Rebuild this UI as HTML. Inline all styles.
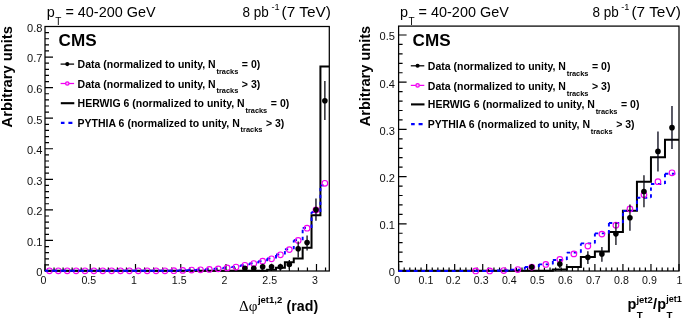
<!DOCTYPE html>
<html><head><meta charset="utf-8"><title>plot</title>
<style>html,body{margin:0;padding:0;background:#fff;}svg{display:block;font-family:'Liberation Sans', sans-serif;will-change:transform;opacity:0.999;}</style>
</head><body>
<svg width="685" height="322" viewBox="0 0 685 322">
<rect width="685" height="322" fill="#fff"/>
<defs><filter id="soft" x="0" y="0" width="685" height="322" filterUnits="userSpaceOnUse"><feGaussianBlur stdDeviation="0.55"/></filter></defs>
<g filter="url(#soft)">
<rect x="45.00" y="26.50" width="284.30" height="244.50" fill="none" stroke="#000" stroke-width="1.25"/>
<path d="M45.00 271.00V264.00M54.05 271.00V267.50M63.10 271.00V267.50M72.15 271.00V267.50M81.20 271.00V267.50M90.25 271.00V264.00M99.30 271.00V267.50M108.35 271.00V267.50M117.40 271.00V267.50M126.45 271.00V267.50M135.50 271.00V264.00M144.55 271.00V267.50M153.59 271.00V267.50M162.64 271.00V267.50M171.69 271.00V267.50M180.74 271.00V264.00M189.79 271.00V267.50M198.84 271.00V267.50M207.89 271.00V267.50M216.94 271.00V267.50M225.99 271.00V264.00M235.04 271.00V267.50M244.09 271.00V267.50M253.14 271.00V267.50M262.19 271.00V267.50M271.24 271.00V264.00M280.29 271.00V267.50M289.34 271.00V267.50M298.39 271.00V267.50M307.44 271.00V267.50M316.49 271.00V264.00M325.54 271.00V267.50M45.00 271.00H53.00M45.00 264.89H49.00M45.00 258.78H49.00M45.00 252.66H49.00M45.00 246.55H49.00M45.00 240.44H53.00M45.00 234.33H49.00M45.00 228.22H49.00M45.00 222.10H49.00M45.00 215.99H49.00M45.00 209.88H53.00M45.00 203.77H49.00M45.00 197.66H49.00M45.00 191.54H49.00M45.00 185.43H49.00M45.00 179.32H53.00M45.00 173.21H49.00M45.00 167.10H49.00M45.00 160.98H49.00M45.00 154.87H49.00M45.00 148.76H53.00M45.00 142.65H49.00M45.00 136.54H49.00M45.00 130.42H49.00M45.00 124.31H49.00M45.00 118.20H53.00M45.00 112.09H49.00M45.00 105.98H49.00M45.00 99.86H49.00M45.00 93.75H49.00M45.00 87.64H53.00M45.00 81.53H49.00M45.00 75.42H49.00M45.00 69.30H49.00M45.00 63.19H49.00M45.00 57.08H53.00M45.00 50.97H49.00M45.00 44.86H49.00M45.00 38.74H49.00M45.00 32.63H49.00M45.00 26.52H53.00" stroke="#000" stroke-width="1.2" fill="none"/>
<path d="M45.00 270.85H53.88V270.85H62.77V270.85H71.65V270.85H80.54V270.85H89.42V270.85H98.31V270.85H107.19V270.85H116.08V270.85H124.96V270.85H133.84V270.85H142.73V270.85H151.61V270.85H160.50V270.85H169.38V270.85H178.27V270.85H187.15V270.85H196.03V270.85H204.92V270.85H213.80V270.85H222.69V270.85H231.57V270.85H240.46V270.85H249.34V270.85H258.23V270.85H267.11V269.78H275.99V267.64H284.88V262.32H293.76V258.62H302.65V247.84H311.53V215.23H320.42V66.55H329.30" stroke="#000" stroke-width="2" fill="none" stroke-linejoin="miter"/>
<circle cx="49.44" cy="270.79" r="2.8" fill="none" stroke="#f200f2" stroke-width="1.15"/>
<circle cx="58.33" cy="270.79" r="2.8" fill="none" stroke="#f200f2" stroke-width="1.15"/>
<circle cx="67.21" cy="270.79" r="2.8" fill="none" stroke="#f200f2" stroke-width="1.15"/>
<circle cx="76.10" cy="270.79" r="2.8" fill="none" stroke="#f200f2" stroke-width="1.15"/>
<circle cx="84.98" cy="270.79" r="2.8" fill="none" stroke="#f200f2" stroke-width="1.15"/>
<circle cx="93.86" cy="270.79" r="2.8" fill="none" stroke="#f200f2" stroke-width="1.15"/>
<circle cx="102.75" cy="270.79" r="2.8" fill="none" stroke="#f200f2" stroke-width="1.15"/>
<circle cx="111.63" cy="270.79" r="2.8" fill="none" stroke="#f200f2" stroke-width="1.15"/>
<circle cx="120.52" cy="270.79" r="2.8" fill="none" stroke="#f200f2" stroke-width="1.15"/>
<circle cx="129.40" cy="270.79" r="2.8" fill="none" stroke="#f200f2" stroke-width="1.15"/>
<circle cx="138.29" cy="270.79" r="2.8" fill="none" stroke="#f200f2" stroke-width="1.15"/>
<circle cx="147.17" cy="270.79" r="2.8" fill="none" stroke="#f200f2" stroke-width="1.15"/>
<circle cx="156.05" cy="270.79" r="2.8" fill="none" stroke="#f200f2" stroke-width="1.15"/>
<circle cx="164.94" cy="270.79" r="2.8" fill="none" stroke="#f200f2" stroke-width="1.15"/>
<circle cx="173.82" cy="270.69" r="2.8" fill="none" stroke="#f200f2" stroke-width="1.15"/>
<circle cx="182.71" cy="270.39" r="2.8" fill="none" stroke="#f200f2" stroke-width="1.15"/>
<circle cx="191.59" cy="270.08" r="2.8" fill="none" stroke="#f200f2" stroke-width="1.15"/>
<g stroke="#0000ff" stroke-width="1.9" fill="none" stroke-dasharray="3.4 3.5"><path d="M45.00 270.79L53.88 270.79"/><path d="M53.88 270.79L62.77 270.79"/><path d="M62.77 270.79L71.65 270.79"/><path d="M71.65 270.79L80.54 270.79"/><path d="M80.54 270.79L89.42 270.79"/><path d="M89.42 270.79L98.31 270.79"/><path d="M98.31 270.79L107.19 270.79"/><path d="M107.19 270.79L116.08 270.79"/><path d="M116.08 270.79L124.96 270.79"/><path d="M124.96 270.79L133.84 270.79"/><path d="M133.84 270.79L142.73 270.79"/><path d="M142.73 270.79L151.61 270.79"/><path d="M151.61 270.79L160.50 270.79"/><path d="M160.50 270.79L169.38 270.79"/><path d="M169.38 270.79L169.38 270.69"/><path d="M169.38 270.69L178.27 270.69"/><path d="M178.27 270.69L178.27 270.39"/><path d="M178.27 270.39L187.15 270.39"/><path d="M187.15 270.39L187.15 270.08"/><path d="M187.15 270.08L196.03 270.08"/><path d="M196.03 270.08L196.03 269.78"/><path d="M204.92 269.78L204.92 269.32"/><path d="M213.80 269.32L213.80 268.71"/><path d="M222.69 268.71L222.69 267.79"/><path d="M231.57 267.79L231.57 266.87"/><path d="M240.46 266.87L240.46 265.19"/><path d="M249.34 265.19L249.34 263.36"/><path d="M258.23 263.36L258.23 261.22"/><path d="M267.11 261.22L267.11 258.47"/><path d="M275.99 258.47L275.99 254.50"/><path d="M284.88 254.50L284.88 249.30"/><path d="M293.76 249.30L293.76 240.13"/><path d="M302.65 240.13L302.65 227.91"/><path d="M311.53 227.91L311.53 212.02"/><path d="M320.42 212.02L320.42 185.43"/></g>
<g stroke="#0000ff" stroke-width="1.9" fill="none" stroke-dasharray="3.3 20"><path d="M196.03 269.78L204.92 269.78"/><path d="M204.92 269.32L213.80 269.32"/><path d="M213.80 268.71L222.69 268.71"/><path d="M222.69 267.79L231.57 267.79"/><path d="M231.57 266.87L240.46 266.87"/><path d="M240.46 265.19L249.34 265.19"/><path d="M249.34 263.36L258.23 263.36"/><path d="M258.23 261.22L267.11 261.22"/><path d="M267.11 258.47L275.99 258.47"/><path d="M275.99 254.50L284.88 254.50"/><path d="M284.88 249.30L293.76 249.30"/><path d="M293.76 240.13L302.65 240.13"/><path d="M302.65 227.91L311.53 227.91"/><path d="M311.53 212.02L320.42 212.02"/><path d="M320.42 185.43L329.30 185.43"/></g>
<circle cx="200.48" cy="269.78" r="2.8" fill="none" stroke="#f200f2" stroke-width="1.15"/>
<circle cx="209.36" cy="269.47" r="2.8" fill="none" stroke="#f200f2" stroke-width="1.15"/>
<circle cx="218.25" cy="268.86" r="2.8" fill="none" stroke="#f200f2" stroke-width="1.15"/>
<circle cx="227.13" cy="267.94" r="2.8" fill="none" stroke="#f200f2" stroke-width="1.15"/>
<circle cx="236.01" cy="267.03" r="2.8" fill="none" stroke="#f200f2" stroke-width="1.15"/>
<circle cx="244.90" cy="265.32" r="2.8" fill="none" stroke="#f200f2" stroke-width="1.15"/>
<circle cx="253.78" cy="263.51" r="2.8" fill="none" stroke="#f200f2" stroke-width="1.15"/>
<circle cx="262.67" cy="261.22" r="2.8" fill="none" stroke="#f200f2" stroke-width="1.15"/>
<circle cx="271.55" cy="258.78" r="2.8" fill="none" stroke="#f200f2" stroke-width="1.15"/>
<circle cx="280.44" cy="254.80" r="2.8" fill="none" stroke="#f200f2" stroke-width="1.15"/>
<circle cx="289.32" cy="249.61" r="2.8" fill="none" stroke="#f200f2" stroke-width="1.15"/>
<circle cx="298.20" cy="240.44" r="2.8" fill="none" stroke="#f200f2" stroke-width="1.15"/>
<circle cx="307.09" cy="228.22" r="2.8" fill="none" stroke="#f200f2" stroke-width="1.15"/>
<circle cx="315.97" cy="209.88" r="2.8" fill="none" stroke="#f200f2" stroke-width="1.15"/>
<circle cx="324.86" cy="183.29" r="2.8" fill="none" stroke="#f200f2" stroke-width="1.15"/>
<path d="M244.90 266.25V270.25" stroke="#0a0a14" stroke-width="1.3"/>
<circle cx="244.90" cy="268.25" r="2.8" fill="#000"/>
<path d="M253.78 266.25V270.25" stroke="#0a0a14" stroke-width="1.3"/>
<circle cx="253.78" cy="268.25" r="2.8" fill="#000"/>
<path d="M262.67 263.72V269.72" stroke="#0a0a14" stroke-width="1.3"/>
<circle cx="262.67" cy="266.72" r="2.8" fill="#000"/>
<path d="M271.55 263.72V269.72" stroke="#0a0a14" stroke-width="1.3"/>
<circle cx="271.55" cy="266.72" r="2.8" fill="#000"/>
<path d="M280.44 263.72V269.72" stroke="#0a0a14" stroke-width="1.3"/>
<circle cx="280.44" cy="266.72" r="2.8" fill="#000"/>
<path d="M289.32 260.00V268.80" stroke="#0a0a14" stroke-width="1.3"/>
<circle cx="289.32" cy="264.43" r="2.8" fill="#000"/>
<path d="M298.20 241.60V257.40" stroke="#0a0a14" stroke-width="1.3"/>
<circle cx="298.20" cy="248.69" r="2.8" fill="#000"/>
<path d="M307.09 235.50V250.40" stroke="#0a0a14" stroke-width="1.3"/>
<circle cx="307.09" cy="242.58" r="2.8" fill="#000"/>
<path d="M315.97 198.50V220.80" stroke="#0a0a14" stroke-width="1.3"/>
<circle cx="315.97" cy="209.73" r="2.8" fill="#000"/>
<path d="M324.86 81.00V120.00" stroke="#0a0a14" stroke-width="1.3"/>
<circle cx="324.86" cy="100.78" r="2.8" fill="#000"/>
<text x="43.50" y="284.20" font-size="10.6" text-anchor="middle" fill="#111">0</text>
<text x="88.75" y="284.20" font-size="10.6" text-anchor="middle" fill="#111">0.5</text>
<text x="134.00" y="284.20" font-size="10.6" text-anchor="middle" fill="#111">1</text>
<text x="179.24" y="284.20" font-size="10.6" text-anchor="middle" fill="#111">1.5</text>
<text x="224.49" y="284.20" font-size="10.6" text-anchor="middle" fill="#111">2</text>
<text x="269.74" y="284.20" font-size="10.6" text-anchor="middle" fill="#111">2.5</text>
<text x="314.99" y="284.20" font-size="10.6" text-anchor="middle" fill="#111">3</text>
<text x="42.40" y="276.40" font-size="11.1" text-anchor="end" fill="#111">0</text>
<text x="42.40" y="245.84" font-size="11.1" text-anchor="end" fill="#111">0.1</text>
<text x="42.40" y="215.28" font-size="11.1" text-anchor="end" fill="#111">0.2</text>
<text x="42.40" y="184.72" font-size="11.1" text-anchor="end" fill="#111">0.3</text>
<text x="42.40" y="154.16" font-size="11.1" text-anchor="end" fill="#111">0.4</text>
<text x="42.40" y="123.60" font-size="11.1" text-anchor="end" fill="#111">0.5</text>
<text x="42.40" y="93.04" font-size="11.1" text-anchor="end" fill="#111">0.6</text>
<text x="42.40" y="62.48" font-size="11.1" text-anchor="end" fill="#111">0.7</text>
<text x="42.40" y="31.92" font-size="11.1" text-anchor="end" fill="#111">0.8</text>
<path d="M60.6 64.1H74.1" stroke="#000" stroke-width="1.25"/>
<circle cx="67.3" cy="64.1" r="2.05" fill="#000"/>
<path d="M60.6 83.5H74.1" stroke="#f200f2" stroke-width="1.25"/>
<circle cx="67.3" cy="83.5" r="1.7" fill="#f6c8f6" stroke="#f200f2" stroke-width="1.3"/>
<path d="M60.8 103.2H74.3" stroke="#000" stroke-width="2.1"/>
<path d="M60.9 122.9h3.6m3.9 0h4" stroke="#0000ff" stroke-width="2.1"/>
<text x="77.6" y="68.1" font-size="10.5" font-weight="bold" fill="#000">Data (normalized to unity, N<tspan dy="5.5" dx="0.8" font-size="7.4">tracks</tspan><tspan dy="-5.5" dx="3.6" font-size="10.5">= 0)</tspan></text>
<text x="77.6" y="87.6" font-size="10.5" font-weight="bold" fill="#000">Data (normalized to unity, N<tspan dy="5.5" dx="0.8" font-size="7.4">tracks</tspan><tspan dy="-5.5" dx="3.6" font-size="10.5">&gt; 3)</tspan></text>
<text x="77.6" y="107.0" font-size="10.5" font-weight="bold" fill="#000">HERWIG 6 (normalized to unity, N<tspan dy="5.5" dx="0.8" font-size="7.4">tracks</tspan><tspan dy="-5.5" dx="3.6" font-size="10.5">= 0)</tspan></text>
<text x="77.6" y="126.7" font-size="10.5" font-weight="bold" fill="#000">PYTHIA 6 (normalized to unity, N<tspan dy="5.5" dx="0.8" font-size="7.4">tracks</tspan><tspan dy="-5.5" dx="3.6" font-size="10.5">&gt; 3)</tspan></text>
<text x="58.60" y="45.80" font-size="17.10" fill="#000" font-weight="bold">CMS</text>
<text x="46.70" y="16.90" font-size="14.40" fill="#000">p</text>
<text x="55.20" y="24.80" font-size="10.00" fill="#000">T</text>
<text x="65.40" y="16.90" font-size="14.40" fill="#000" textLength="90.20" lengthAdjust="spacingAndGlyphs">= 40-200 GeV</text>
<text x="242.60" y="16.60" font-size="14.00" fill="#000" textLength="26.20" lengthAdjust="spacingAndGlyphs">8 pb</text>
<text x="271.40" y="10.30" font-size="9.20" fill="#000" textLength="8.20" lengthAdjust="spacingAndGlyphs">-1</text>
<text x="281.60" y="16.60" font-size="14.30" fill="#000" textLength="49.30" lengthAdjust="spacingAndGlyphs">(7 TeV)</text>
<text transform="translate(11.9,127.4) rotate(-90)" font-size="14.1" font-weight="bold" fill="#000" textLength="101.3" lengthAdjust="spacingAndGlyphs">Arbitrary units</text>
<text x="239.0" y="311.2" font-size="14.3" fill="#000" font-family="'Liberation Serif', serif" textLength="18.4" lengthAdjust="spacingAndGlyphs">&#916;&#966;</text>
<text x="257.90" y="303.00" font-size="9.50" fill="#000" font-weight="bold">jet1,2</text>
<text x="286.60" y="311.30" font-size="14.20" fill="#000" font-weight="bold">(rad)</text>
<rect x="398.60" y="26.10" width="280.40" height="244.90" fill="none" stroke="#000" stroke-width="1.25"/>
<path d="M398.60 271.00V264.00M404.21 271.00V267.50M409.82 271.00V267.50M415.42 271.00V267.50M421.03 271.00V267.50M426.64 271.00V264.00M432.25 271.00V267.50M437.86 271.00V267.50M443.46 271.00V267.50M449.07 271.00V267.50M454.68 271.00V264.00M460.29 271.00V267.50M465.90 271.00V267.50M471.50 271.00V267.50M477.11 271.00V267.50M482.72 271.00V264.00M488.33 271.00V267.50M493.94 271.00V267.50M499.54 271.00V267.50M505.15 271.00V267.50M510.76 271.00V264.00M516.37 271.00V267.50M521.98 271.00V267.50M527.58 271.00V267.50M533.19 271.00V267.50M538.80 271.00V264.00M544.41 271.00V267.50M550.02 271.00V267.50M555.62 271.00V267.50M561.23 271.00V267.50M566.84 271.00V264.00M572.45 271.00V267.50M578.06 271.00V267.50M583.66 271.00V267.50M589.27 271.00V267.50M594.88 271.00V264.00M600.49 271.00V267.50M606.10 271.00V267.50M611.70 271.00V267.50M617.31 271.00V267.50M622.92 271.00V264.00M628.53 271.00V267.50M634.14 271.00V267.50M639.74 271.00V267.50M645.35 271.00V267.50M650.96 271.00V264.00M656.57 271.00V267.50M662.18 271.00V267.50M667.78 271.00V267.50M673.39 271.00V267.50M679.00 271.00V264.00M398.60 271.00H406.60M398.60 261.56H402.60M398.60 252.12H402.60M398.60 242.68H402.60M398.60 233.24H402.60M398.60 223.80H406.60M398.60 214.36H402.60M398.60 204.92H402.60M398.60 195.48H402.60M398.60 186.04H402.60M398.60 176.60H406.60M398.60 167.16H402.60M398.60 157.72H402.60M398.60 148.28H402.60M398.60 138.84H402.60M398.60 129.40H406.60M398.60 119.96H402.60M398.60 110.52H402.60M398.60 101.08H402.60M398.60 91.64H402.60M398.60 82.20H406.60M398.60 72.76H402.60M398.60 63.32H402.60M398.60 53.88H402.60M398.60 44.44H402.60M398.60 35.00H406.60" stroke="#000" stroke-width="1.2" fill="none"/>
<path d="M398.60 270.86H412.62V270.86H426.64V270.86H440.66V270.86H454.68V270.86H468.70V270.86H482.72V270.86H496.74V270.86H510.76V270.86H524.78V270.86H538.80V270.86H552.82V269.59H566.84V267.00H580.86V256.99H594.88V251.59H608.90V231.99H622.92V210.84H636.94V181.70H650.96V157.26H664.98V139.87H679.00" stroke="#000" stroke-width="2" fill="none" stroke-linejoin="miter"/>
<circle cx="475.71" cy="270.91" r="2.8" fill="none" stroke="#f200f2" stroke-width="1.15"/>
<circle cx="489.73" cy="270.91" r="2.8" fill="none" stroke="#f200f2" stroke-width="1.15"/>
<circle cx="503.75" cy="270.53" r="2.8" fill="none" stroke="#f200f2" stroke-width="1.15"/>
<path d="M398.60 271.00L412.62 271.00L412.62 271.00L426.64 271.00L426.64 271.00L440.66 271.00L440.66 271.00L454.68 271.00L454.68 271.00L468.70 271.00L468.70 271.00L482.72 271.00L482.72 271.00L496.74 271.00L496.74 270.62L510.76 270.62" stroke="#0000ff" stroke-width="2.2" fill="none" stroke-dasharray="3.8 3.8"/>
<g stroke="#0000ff" stroke-width="1.9" fill="none" stroke-dasharray="3.4 3.5"><path d="M510.76 270.62L510.76 269.59"/><path d="M510.76 269.59L524.78 269.59"/><path d="M524.78 269.59L524.78 267.00"/><path d="M524.78 267.00L538.80 267.00"/><path d="M538.80 267.00L538.80 264.42"/><path d="M538.80 264.42L552.82 264.42"/><path d="M552.82 264.42L552.82 260.00"/><path d="M552.82 260.00L566.84 260.00"/><path d="M566.84 260.00L566.84 252.67"/><path d="M566.84 252.67L580.86 252.67"/><path d="M580.86 252.67L580.86 243.41"/><path d="M580.86 243.41L594.88 243.41"/><path d="M594.88 243.41L594.88 233.40"/><path d="M594.88 233.40L608.90 233.40"/><path d="M608.90 233.40L608.90 223.06"/><path d="M608.90 223.06L622.92 223.06"/><path d="M622.92 223.06L622.92 210.84"/><path d="M622.92 210.84L636.94 210.84"/><path d="M636.94 210.84L636.94 197.68"/><path d="M636.94 197.68L650.96 197.68"/><path d="M650.96 197.68L650.96 184.05"/><path d="M650.96 184.05L664.98 184.05"/><path d="M664.98 184.05L664.98 173.71"/><path d="M664.98 173.71L679.00 173.71"/></g>
<g stroke="#0000ff" stroke-width="1.9" fill="none" stroke-dasharray="3.3 20"></g>
<circle cx="517.77" cy="269.59" r="2.8" fill="none" stroke="#f200f2" stroke-width="1.15"/>
<circle cx="531.79" cy="267.00" r="2.8" fill="none" stroke="#f200f2" stroke-width="1.15"/>
<circle cx="545.81" cy="264.42" r="2.8" fill="none" stroke="#f200f2" stroke-width="1.15"/>
<circle cx="559.83" cy="259.49" r="2.8" fill="none" stroke="#f200f2" stroke-width="1.15"/>
<circle cx="573.85" cy="253.89" r="2.8" fill="none" stroke="#f200f2" stroke-width="1.15"/>
<circle cx="587.87" cy="246.09" r="2.8" fill="none" stroke="#f200f2" stroke-width="1.15"/>
<circle cx="601.89" cy="234.10" r="2.8" fill="none" stroke="#f200f2" stroke-width="1.15"/>
<circle cx="615.91" cy="225.18" r="2.8" fill="none" stroke="#f200f2" stroke-width="1.15"/>
<circle cx="629.93" cy="208.96" r="2.8" fill="none" stroke="#f200f2" stroke-width="1.15"/>
<circle cx="643.95" cy="194.86" r="2.8" fill="none" stroke="#f200f2" stroke-width="1.15"/>
<circle cx="657.97" cy="181.70" r="2.8" fill="none" stroke="#f200f2" stroke-width="1.15"/>
<circle cx="671.99" cy="172.77" r="2.8" fill="none" stroke="#f200f2" stroke-width="1.15"/>
<path d="M531.79 264.00V270.00" stroke="#0a0a14" stroke-width="1.3"/>
<circle cx="531.79" cy="267.00" r="2.8" fill="#000"/>
<path d="M559.83 259.00V268.00" stroke="#0a0a14" stroke-width="1.3"/>
<circle cx="559.83" cy="263.95" r="2.8" fill="#000"/>
<path d="M587.87 251.30V263.90" stroke="#0a0a14" stroke-width="1.3"/>
<circle cx="587.87" cy="257.37" r="2.8" fill="#000"/>
<path d="M601.89 246.90V261.80" stroke="#0a0a14" stroke-width="1.3"/>
<circle cx="601.89" cy="253.89" r="2.8" fill="#000"/>
<path d="M615.91 222.50V245.10" stroke="#0a0a14" stroke-width="1.3"/>
<circle cx="615.91" cy="233.87" r="2.8" fill="#000"/>
<path d="M629.93 204.50V230.80" stroke="#0a0a14" stroke-width="1.3"/>
<circle cx="629.93" cy="217.70" r="2.8" fill="#000"/>
<path d="M643.95 175.20V207.20" stroke="#0a0a14" stroke-width="1.3"/>
<circle cx="643.95" cy="191.57" r="2.8" fill="#000"/>
<path d="M657.97 131.50V171.50" stroke="#0a0a14" stroke-width="1.3"/>
<circle cx="657.97" cy="151.38" r="2.8" fill="#000"/>
<path d="M671.99 106.00V149.00" stroke="#0a0a14" stroke-width="1.3"/>
<circle cx="671.99" cy="127.65" r="2.8" fill="#000"/>
<text x="397.10" y="284.20" font-size="10.6" text-anchor="middle" fill="#111">0</text>
<text x="425.94" y="284.20" font-size="10.6" text-anchor="middle" fill="#111">0.1</text>
<text x="453.18" y="284.20" font-size="10.6" text-anchor="middle" fill="#111">0.2</text>
<text x="481.22" y="284.20" font-size="10.6" text-anchor="middle" fill="#111">0.3</text>
<text x="509.26" y="284.20" font-size="10.6" text-anchor="middle" fill="#111">0.4</text>
<text x="537.30" y="284.20" font-size="10.6" text-anchor="middle" fill="#111">0.5</text>
<text x="565.34" y="284.20" font-size="10.6" text-anchor="middle" fill="#111">0.6</text>
<text x="593.38" y="284.20" font-size="10.6" text-anchor="middle" fill="#111">0.7</text>
<text x="621.42" y="284.20" font-size="10.6" text-anchor="middle" fill="#111">0.8</text>
<text x="649.46" y="284.20" font-size="10.6" text-anchor="middle" fill="#111">0.9</text>
<text x="679.50" y="284.20" font-size="10.6" text-anchor="middle" fill="#111">1</text>
<text x="394.90" y="276.40" font-size="11.1" text-anchor="end" fill="#111">0</text>
<text x="394.90" y="229.20" font-size="11.1" text-anchor="end" fill="#111">0.1</text>
<text x="394.90" y="182.00" font-size="11.1" text-anchor="end" fill="#111">0.2</text>
<text x="394.90" y="134.80" font-size="11.1" text-anchor="end" fill="#111">0.3</text>
<text x="394.90" y="87.60" font-size="11.1" text-anchor="end" fill="#111">0.4</text>
<text x="394.90" y="40.40" font-size="11.1" text-anchor="end" fill="#111">0.5</text>
<path d="M410.8 65.8H424.3" stroke="#000" stroke-width="1.25"/>
<circle cx="417.6" cy="65.8" r="2.05" fill="#000"/>
<path d="M410.8 85.4H424.3" stroke="#f200f2" stroke-width="1.25"/>
<circle cx="417.6" cy="85.4" r="1.7" fill="#f6c8f6" stroke="#f200f2" stroke-width="1.3"/>
<path d="M411.0 104.4H424.5" stroke="#000" stroke-width="2.1"/>
<path d="M411.1 124.1h3.6m3.9 0h4" stroke="#0000ff" stroke-width="2.1"/>
<text x="427.8" y="70.1" font-size="10.5" font-weight="bold" fill="#000">Data (normalized to unity, N<tspan dy="5.5" dx="0.8" font-size="7.4">tracks</tspan><tspan dy="-5.5" dx="3.6" font-size="10.5">= 0)</tspan></text>
<text x="427.8" y="90.2" font-size="10.5" font-weight="bold" fill="#000">Data (normalized to unity, N<tspan dy="5.5" dx="0.8" font-size="7.4">tracks</tspan><tspan dy="-5.5" dx="3.6" font-size="10.5">&gt; 3)</tspan></text>
<text x="427.8" y="108.4" font-size="10.5" font-weight="bold" fill="#000">HERWIG 6 (normalized to unity, N<tspan dy="5.5" dx="0.8" font-size="7.4">tracks</tspan><tspan dy="-5.5" dx="3.6" font-size="10.5">= 0)</tspan></text>
<text x="427.8" y="128.4" font-size="10.5" font-weight="bold" fill="#000">PYTHIA 6 (normalized to unity, N<tspan dy="5.5" dx="0.8" font-size="7.4">tracks</tspan><tspan dy="-5.5" dx="3.6" font-size="10.5">&gt; 3)</tspan></text>
<text x="412.60" y="45.60" font-size="17.10" fill="#000" font-weight="bold">CMS</text>
<text x="399.90" y="16.90" font-size="14.40" fill="#000">p</text>
<text x="408.40" y="24.80" font-size="10.00" fill="#000">T</text>
<text x="418.60" y="16.90" font-size="14.40" fill="#000" textLength="90.20" lengthAdjust="spacingAndGlyphs">= 40-200 GeV</text>
<text x="592.50" y="16.60" font-size="14.00" fill="#000" textLength="26.20" lengthAdjust="spacingAndGlyphs">8 pb</text>
<text x="621.30" y="10.30" font-size="9.20" fill="#000" textLength="8.20" lengthAdjust="spacingAndGlyphs">-1</text>
<text x="631.50" y="16.60" font-size="14.30" fill="#000" textLength="49.30" lengthAdjust="spacingAndGlyphs">(7 TeV)</text>
<text transform="translate(370.4,126.3) rotate(-90)" font-size="14.1" font-weight="bold" fill="#000" textLength="100.5" lengthAdjust="spacingAndGlyphs">Arbitrary units</text>
<text x="627.60" y="309.30" font-size="14.60" fill="#000" font-weight="bold">p</text>
<text x="636.40" y="303.10" font-size="9.60" fill="#000" font-weight="bold" textLength="16.30" lengthAdjust="spacingAndGlyphs">jet2</text>
<text x="636.80" y="318.10" font-size="9.80" fill="#000" font-weight="bold">T</text>
<text x="652.90" y="309.30" font-size="14.60" fill="#000" font-weight="bold">/</text>
<text x="657.20" y="309.30" font-size="14.60" fill="#000" font-weight="bold">p</text>
<text x="666.20" y="302.00" font-size="9.60" fill="#000" font-weight="bold" textLength="15.60" lengthAdjust="spacingAndGlyphs">jet1</text>
<text x="666.50" y="318.10" font-size="9.80" fill="#000" font-weight="bold">T</text>
</g>
</svg></body></html>
